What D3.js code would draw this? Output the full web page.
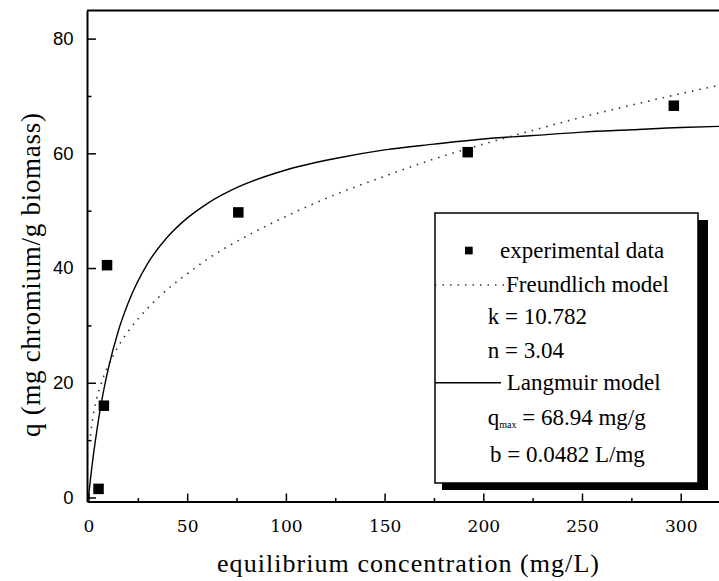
<!DOCTYPE html>
<html>
<head>
<meta charset="utf-8">
<script src="https://cdn.jsdelivr.net/npm/d3@7"></script>
<style>
body { margin: 0; background: #fff; }
svg { display: block; }
</style>
</head>
<body>
<svg id="drawing_region"></svg>
<script>
// experimental points
const concData = [5.1, 7.8, 9.4, 75.9, 192.1, 296.5];
const qData = [1.5, 16.0, 40.5, 49.7, 60.2, 68.3];

// fitted curves
const langmuirConc = [0, 1, 2, 4, 6, 8, 10, 15, 20, 30, 40, 50, 60, 75, 100, 125, 150, 175, 200, 225, 250, 275, 300, 320];
const langmuirQ = [0, 3.2, 6.1, 11.1, 15.5, 19.2, 22.4, 28.9, 33.8, 40.8, 45.4, 48.7, 51.2, 54.0, 57.1, 59.1, 60.6, 61.6, 62.5, 63.1, 63.7, 64.1, 64.5, 64.7];
const freundlichConc = [1, 2, 4, 6, 8, 10, 15, 20, 30, 40, 50, 60, 75, 100, 125, 150, 175, 200, 225, 250, 275, 300, 320];
const freundlichQ = [10.8, 13.5, 17.0, 19.4, 21.4, 23.0, 26.3, 28.9, 33.0, 36.3, 39.0, 41.5, 44.6, 49.0, 52.8, 56.0, 59.0, 61.6, 64.0, 66.3, 68.4, 70.4, 71.9];

// ticks
const xTicks = [0, 50, 100, 150, 200, 250, 300];
const xMinorTicks = [25, 75, 125, 175, 225, 275];
const yTicks = [0, 20, 40, 60, 80];
const yMinorTicks = [10, 30, 50, 70];

// texts
const xLabel = "equilibrium concentration (mg/L)";
const yLabel = "q (mg chromium/g biomass)";
const legendLabels = ["experimental data", "Freundlich model", "k = 10.782", "n = 3.04", "Langmuir model", "q", "b = 0.0482 L/mg"];

const width = 719, height = 581;
const serif = '"Liberation Serif"';

const svg = d3.select('#drawing_region')
  .attr('width', width)
  .attr('height', height);

const xscale = d3.scaleLinear().domain([-0.75, 320]).range([87, 720.2]);
const yscale = d3.scaleLinear().domain([-0.7, 84.9]).range([501.5, 10.5]);

// top frame line (plot is cut at right)
svg.append('line')
  .attr('x1', 87).attr('x2', width)
  .attr('y1', 10.5).attr('y2', 10.5)
  .attr('stroke', 'black').attr('stroke-width', 2);

// curves
const line = d3.line()
  .x(d => xscale(d[0]))
  .y(d => yscale(d[1]))
  .curve(d3.curveMonotoneX);

svg.append('path')
  .datum(d3.zip(freundlichConc, freundlichQ))
  .attr('d', line)
  .attr('fill', 'none')
  .attr('stroke', '#333')
  .attr('stroke-width', 1.6)
  .attr('stroke-dasharray', '1.5 6');

svg.append('path')
  .datum(d3.zip(langmuirConc, langmuirQ))
  .attr('d', line)
  .attr('fill', 'none')
  .attr('stroke', 'black')
  .attr('stroke-width', 1.4);

// data squares
const ms = 10.5;
svg.append('g')
  .selectAll('rect')
  .data(d3.zip(concData, qData))
  .enter()
  .append('rect')
  .attr('x', d => xscale(d[0]) - ms / 2)
  .attr('y', d => yscale(d[1]) - ms / 2)
  .attr('width', ms)
  .attr('height', ms)
  .attr('fill', 'black');

// x axis
const xaxis_group = svg.append('g')
  .attr('transform', `translate(0, ${yscale.range()[0]})`);
xaxis_group.call(d3.axisBottom(xscale)
  .tickValues(xTicks)
  .tickSize(-8)
  .tickSizeOuter(0)
  .tickPadding(18)
  .tickFormat(d3.format('d')));
xaxis_group.append('g').call(d3.axisBottom(xscale)
  .tickValues(xMinorTicks)
  .tickSize(-3.5)
  .tickSizeOuter(0)
  .tickFormat(''))
  .select('.domain').remove();
xaxis_group.selectAll('.domain').attr('stroke-width', 2);
xaxis_group.selectAll('.tick line').attr('stroke-width', 1.5);
xaxis_group.selectAll('text')
  .style('font-family', '"DejaVu Serif"')
  .style('font-size', '17px')
  .attr('fill', 'black');

// y axis
const yaxis_group = svg.append('g')
  .attr('transform', `translate(${xscale.range()[0]}, 0)`);
yaxis_group.call(d3.axisLeft(yscale)
  .tickValues(yTicks)
  .tickSize(-9)
  .tickSizeOuter(0)
  .tickPadding(13.5)
  .tickFormat(d3.format('d')));
yaxis_group.append('g').call(d3.axisLeft(yscale)
  .tickValues(yMinorTicks)
  .tickSize(-4.5)
  .tickSizeOuter(0)
  .tickFormat(''))
  .select('.domain').remove();
yaxis_group.selectAll('.domain').attr('stroke-width', 2);
yaxis_group.selectAll('.tick line').attr('stroke-width', 1.5);
yaxis_group.selectAll('text')
  .style('font-family', '"Liberation Sans"')
  .style('font-size', '18.5px')
  .attr('fill', 'black');

// axis titles
svg.append('text')
  .attr('x', 408)
  .attr('y', 572)
  .attr('text-anchor', 'middle')
  .style('font-family', serif)
  .style('font-size', '26px')
  .attr('textLength', 382)
  .attr('lengthAdjust', 'spacing')
  .text(xLabel);

svg.append('text')
  .attr('transform', 'translate(40, 275) rotate(-90)')
  .attr('text-anchor', 'middle')
  .style('font-family', serif)
  .style('font-size', '27px')
  .attr('textLength', 324)
  .attr('lengthAdjust', 'spacing')
  .text(yLabel);

// legend
const legend = svg.append('g');
legend.append('rect')
  .attr('x', 442).attr('y', 220)
  .attr('width', 266).attr('height', 270)
  .attr('fill', 'black');
legend.append('rect')
  .attr('x', 435).attr('y', 213)
  .attr('width', 263).attr('height', 270)
  .attr('fill', 'white')
  .attr('stroke', 'black')
  .attr('stroke-width', 1.5);

legend.append('rect')
  .attr('x', 465).attr('y', 246.7)
  .attr('width', 7.7).attr('height', 7.7)
  .attr('fill', 'black');
legend.append('line')
  .attr('x1', 435).attr('x2', 505)
  .attr('y1', 285).attr('y2', 285)
  .attr('stroke', '#333')
  .attr('stroke-width', 1.6)
  .attr('stroke-dasharray', '1.5 6');
legend.append('line')
  .attr('x1', 435).attr('x2', 501)
  .attr('y1', 382.7).attr('y2', 382.7)
  .attr('stroke', 'black')
  .attr('stroke-width', 1.4);

const legendX = [500, 506, 487.7, 487.7, 506.7, 487.7, 490];
const legendY = [258.3, 291.7, 324.3, 358.3, 390, 425, 461.7];
legendLabels.forEach((t, i) => {
  const txt = legend.append('text')
    .attr('x', legendX[i])
    .attr('y', legendY[i])
    .style('font-family', serif)
    .style('font-size', '23px')
    .attr('fill', 'black')
    .text(t);
  if (t === 'q') {
    txt.append('tspan')
      .style('font-size', '10px')
      .attr('dy', 3)
      .text('max');
    txt.append('tspan')
      .attr('dy', -3)
      .text(' = 68.94 mg/g');
  }
});
</script>
</body>
</html>
